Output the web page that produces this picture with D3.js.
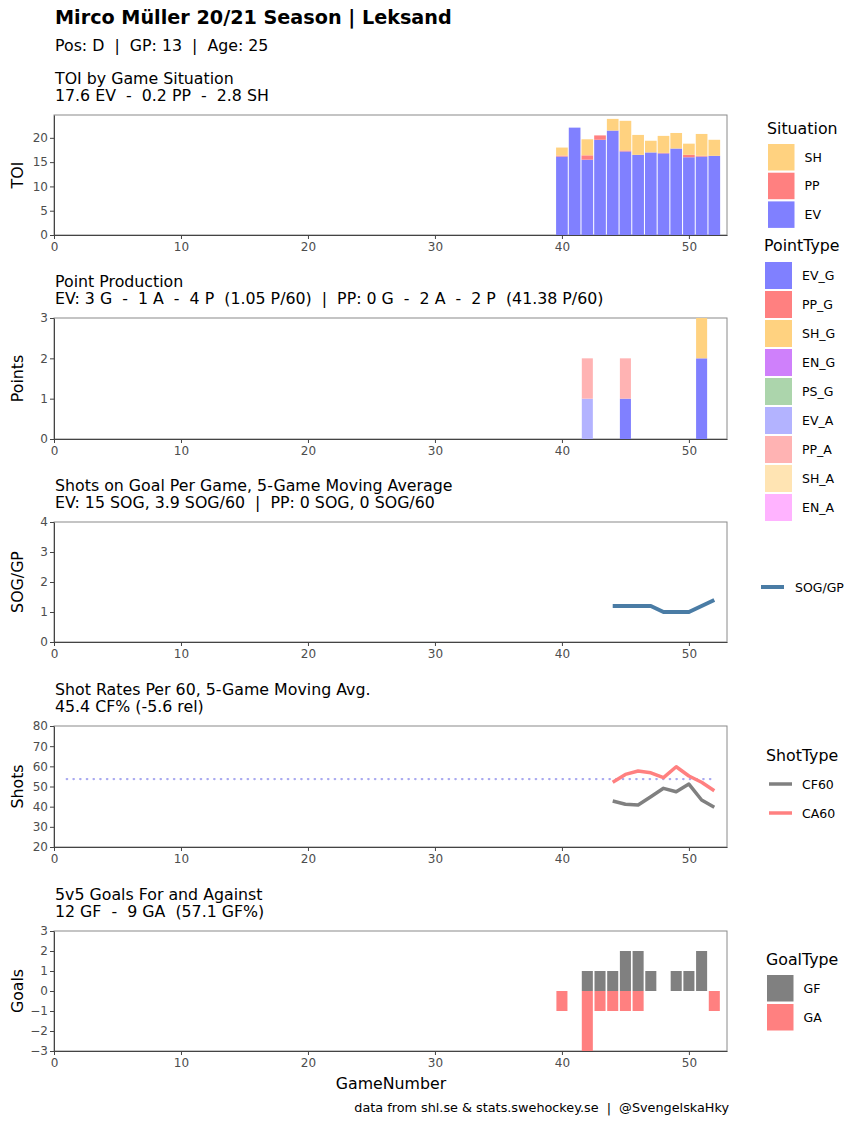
<!DOCTYPE html>
<html><head><meta charset="utf-8">
<script src="https://cdn.jsdelivr.net/npm/d3@7"></script>
<style>body{margin:0;background:#fff}svg text{font-family:"DejaVu Sans",sans-serif}</style>
</head><body><svg id="c" width="865" height="1125"></svg>
<script>
// ---- data ----
const games = [40,41,42,43,44,45,46,47,48,49,50,51,52];
const toiEV = [16.15,22.1,15.5,19.6,21.5,17.2,16.5,17.0,16.8,17.8,16.0,16.15,16.3];
const toiPP = [0.2,0,0.9,0.9,0,0.2,0,0,0.1,0,0.5,0.15,0];
const toiSH = [1.65,0,3.3,0,2.4,6.1,4.1,2.4,3.5,3.2,2.3,4.5,3.3];

const pointTypes = ["EV_G","PP_G","SH_G","EN_G","PS_G","EV_A","PP_A","SH_A","EN_A"];
const pointColors = ["#8080ff","#ff8080","#ffd280","#cf80fb","#acd5ac","#b3b3ff","#ffb3b3","#ffe4b3","#ffb3ff"];
const pointGames = [42,45,51];
const ptEV_G = [0,1,2];
const ptSH_G = [0,0,1];
const ptEV_A = [1,0,0];
const ptPP_A = [1,1,0];

const sogGames = [44,45,46,47,48,49,50,51,52];
const sogMA = [1.2,1.2,1.2,1.2,1.0,1.0,1.0,1.2,1.4];

const rateGames = [44,45,46,47,48,49,50,51,52];
const cf60 = [42.8,41.2,40.8,44.9,49.1,47.4,51.2,43.3,39.7];
const ca60 = [52.1,56.0,57.7,56.8,54.4,59.8,55.2,52.1,47.9];
const teamAvgCA = 53.7;

const goalGames = [40,41,42,43,44,45,46,47,48,49,50,51,52];
const gf = [0,0,1,1,1,2,2,1,0,1,1,2,0];
const ga = [1,0,3,1,1,1,1,0,0,0,0,0,1];

const xTicks = [0,10,20,30,40,50];

// ---- layout ----
const svg = d3.select("#c");
const X0 = 54, X1 = 727;
const x = d3.scaleLinear().domain([0,53]).range([X0,X1]);
const bw = x(1)-x(0);
const FT = 15.8, FL = 12.5, FK = 12;

svg.append("text").attr("x",55).attr("y",24).attr("font-size",19.2).attr("font-weight","bold").text("Mirco Müller 20/21 Season | Leksand");
svg.append("text").attr("x",55).attr("y",51).attr("font-size",FT).style("white-space","pre").text("Pos: D  |  GP: 13  |  Age: 25");

function panel(top, bottom, domain, ticks, ylab, t1, t2){
  const y = d3.scaleLinear().domain(domain).range([bottom, top]);
  const g = svg.append("g");
  g.append("text").attr("x",55).attr("y",top-31).attr("font-size",FT).style("white-space","pre").text(t1);
  g.append("text").attr("x",55).attr("y",top-14).attr("font-size",FT).style("white-space","pre").text(t2);
  g.append("rect").attr("x",X0).attr("y",top).attr("width",X1-X0).attr("height",bottom-top).attr("fill","none").attr("stroke","#8a8a8a").attr("stroke-width",1);
  const ya = g.append("g").attr("transform",`translate(${X0},0)`).call(d3.axisLeft(y).tickValues(ticks).tickFormat(d3.format("d")).tickSize(4).tickSizeOuter(0));
  const xa = g.append("g").attr("transform",`translate(0,${bottom})`).call(d3.axisBottom(x).tickValues(xTicks).tickFormat(d3.format("d")).tickSize(4).tickSizeOuter(0));
  [ya,xa].forEach(a=>{
    a.select(".domain").attr("stroke","#444");
    a.selectAll(".tick line").attr("stroke","#444");
    a.selectAll(".tick text").attr("fill","#4d4d4d").attr("font-size",FK).attr("font-family","DejaVu Sans");
  });
  ya.selectAll(".tick text").attr("x",-6);
  xa.selectAll(".tick text").attr("y",7);
  g.append("text").attr("transform",`translate(23,${(top+bottom)/2}) rotate(-90)`).attr("text-anchor","middle").attr("font-size",FT).text(ylab);
  return {g,y};
}

// Panel 1: TOI
{
  const {g,y} = panel(115,235,[0,24.7],[0,5,10,15,20],"TOI","TOI by Game Situation","17.6 EV  -  0.2 PP  -  2.8 SH");
  const w = bw*0.92;
  games.forEach((gm,i)=>{
    const segs = [[toiEV[i],"#8080ff"],[toiPP[i],"#ff8080"],[toiSH[i],"#ffd280"]];
    let base = 0;
    segs.forEach(([v,c])=>{
      if(v>0){
        g.append("rect").attr("x",x(gm)-w/2).attr("width",w).attr("y",y(base+v)).attr("height",y(base)-y(base+v)).attr("fill",c);
      }
      base += v;
    });
  });
}
// Panel 2: Points
{
  const {g,y} = panel(318,439,[0,3],[0,1,2,3],"Points","Point Production","EV: 3 G  -  1 A  -  4 P  (1.05 P/60)  |  PP: 0 G  -  2 A  -  2 P  (41.38 P/60)");
  const w = bw*0.87;
  pointGames.forEach((gm,i)=>{
    const order = [[ptEV_A[i],pointColors[5]],[ptEV_G[i],pointColors[0]],[ptPP_A[i],pointColors[6]],[ptSH_G[i],pointColors[2]]];
    let base=0;
    order.forEach(([v,c])=>{
      if(v>0){
        g.append("rect").attr("x",x(gm)-w/2).attr("width",w).attr("y",y(base+v)).attr("height",y(base)-y(base+v)).attr("fill",c);
      }
      base+=v;
    });
  });
}
// Panel 3: SOG
{
  const {g,y} = panel(522,642,[0,4],[0,1,2,3,4],"SOG/GP","Shots on Goal Per Game, 5-Game Moving Average","EV: 15 SOG, 3.9 SOG/60  |  PP: 0 SOG, 0 SOG/60");
  const line = d3.line().x((d,i)=>x(sogGames[i])).y(d=>y(d));
  g.append("path").datum(sogMA).attr("d",line).attr("fill","none").attr("stroke","#4a7ca5").attr("stroke-width",4).attr("stroke-linejoin","round");
}
// Panel 4: Shot rates
{
  const {g,y} = panel(726,847,[20,80],[20,30,40,50,60,70,80],"Shots","Shot Rates Per 60, 5-Game Moving Avg.","45.4 CF% (-5.6 rel)");
  g.append("line").attr("x1",x(1)).attr("x2",x(52)).attr("y1",y(teamAvgCA)).attr("y2",y(teamAvgCA)).attr("stroke","#a9a9f0").attr("stroke-width",2.2).attr("stroke-linecap","round").attr("stroke-dasharray","0.5,6.2");
  const mk = arr => d3.line().x((d,i)=>x(rateGames[i])).y(d=>y(d))(arr);
  g.append("path").attr("d",mk(cf60)).attr("fill","none").attr("stroke","#808080").attr("stroke-width",3.5).attr("stroke-linejoin","round");
  g.append("path").attr("d",mk(ca60)).attr("fill","none").attr("stroke","#ff8080").attr("stroke-width",3.5).attr("stroke-linejoin","round");
}
// Panel 5: Goals
{
  const {g,y} = panel(931,1051,[-3,3],[-3,-2,-1,0,1,2,3],"Goals","5v5 Goals For and Against","12 GF  -  9 GA  (57.1 GF%)");
  const w = bw*0.87;
  goalGames.forEach((gm,i)=>{
    if(gf[i]>0) g.append("rect").attr("x",x(gm)-w/2).attr("width",w).attr("y",y(gf[i])).attr("height",y(0)-y(gf[i])).attr("fill","#808080");
    if(ga[i]>0) g.append("rect").attr("x",x(gm)-w/2).attr("width",w).attr("y",y(0)).attr("height",y(-ga[i])-y(0)).attr("fill","#ff8080");
  });
}

// axis title + caption
svg.append("text").attr("x",391).attr("y",1089).attr("text-anchor","middle").attr("font-size",FT).text("GameNumber");
svg.append("text").attr("x",729).attr("y",1112).attr("text-anchor","end").attr("font-size",12.8).style("white-space","pre").text("data from shl.se & stats.swehockey.se  |  @SvengelskaHky");

// ---- legends ----
function boxLegend(title, tx, ty, kx, ky0, step, size, labels, colors){
  svg.append("text").attr("x",tx).attr("y",ty).attr("font-size",FT).text(title);
  labels.forEach((l,i)=>{
    svg.append("rect").attr("x",kx).attr("y",ky0+i*step).attr("width",size).attr("height",size).attr("fill",colors[i]);
    svg.append("text").attr("x",kx+size+10).attr("y",ky0+i*step+size/2+4.5).attr("font-size",FL).text(l);
  });
}
boxLegend("Situation",767,134,768,144,28.7,26.5,["SH","PP","EV"],["#ffd280","#ff8080","#8080ff"]);
boxLegend("PointType",764,251,765,262,29,27,pointTypes,pointColors);
boxLegend("GoalType",766,965,767,975,29,26.5,["GF","GA"],["#808080","#ff8080"]);

svg.append("line").attr("x1",761).attr("x2",784).attr("y1",587).attr("y2",587).attr("stroke","#4a7ca5").attr("stroke-width",4);
svg.append("text").attr("x",795).attr("y",591.5).attr("font-size",FL).text("SOG/GP");

svg.append("text").attr("x",766).attr("y",761).attr("font-size",FT).text("ShotType");
[["CF60","#808080",784],["CA60","#ff8080",813]].forEach(([l,c,yy])=>{
  svg.append("line").attr("x1",769).attr("x2",792).attr("y1",yy).attr("y2",yy).attr("stroke",c).attr("stroke-width",3.5);
  svg.append("text").attr("x",802).attr("y",yy+4.5).attr("font-size",FL).text(l);
});
</script></body></html>
